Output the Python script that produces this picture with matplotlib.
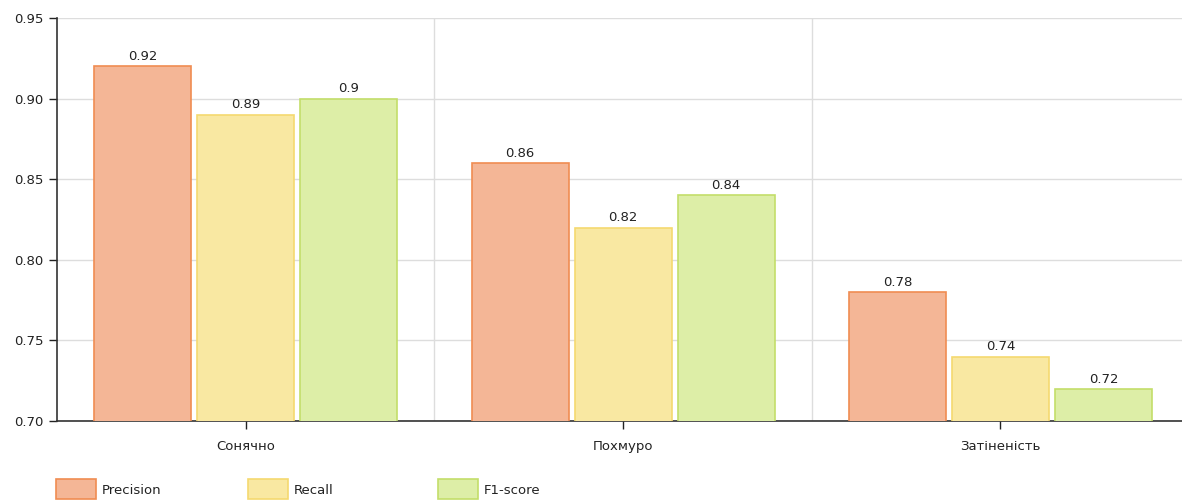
import numpy as np
import matplotlib.pyplot as plt
from matplotlib.patches import Rectangle

# Data
categories = ["Сонячно", "Похмуро", "Затіненість"]
series_names = ["Precision", "Recall", "F1-score"]
precision = [0.92, 0.86, 0.78]
recall = [0.89, 0.82, 0.74]
f1_score = [0.90, 0.84, 0.72]
value_labels = [["0.92", "0.86", "0.78"],
                ["0.89", "0.82", "0.74"],
                ["0.9", "0.84", "0.72"]]

fills = ["#F4B696", "#F9E8A2", "#DDEEA7"]
edges = ["#F08C52", "#F5D970", "#C3DE6A"]

plt.rcParams['font.family'] = ['DejaVu Sans']

fig = plt.figure(figsize=(11.82, 5), dpi=100)
ax = fig.add_axes([57 / 1182, 79 / 500, 1 - 57 / 1182 + 0.006, 403 / 500])

x = np.arange(len(categories))
width = 0.257
step = 0.273
for i, vals in enumerate([precision, recall, f1_score]):
    pos = x + (i - 1) * step
    ax.bar(pos, vals, width=width, color=fills[i], edgecolor=edges[i],
           linewidth=1.2, zorder=3)
    for p, v, lab in zip(pos, vals, value_labels[i]):
        ax.text(p, v + 0.002, lab, ha='center', va='bottom', fontsize=9.5,
                color='#222222', zorder=4)

ax.set_ylim(0.70, 0.95)
ax.set_xlim(-0.5, 2.5)
ax.set_yticks([0.70, 0.75, 0.80, 0.85, 0.90, 0.95])
ax.set_yticklabels(["0.70", "0.75", "0.80", "0.85", "0.90", "0.95"])
ax.set_xticks(x)
ax.set_xticklabels(categories)
ax.tick_params(axis='both', labelsize=9.5, colors='#222222', length=6, width=1)
ax.tick_params(axis='x', pad=8)

# grid
ax.grid(axis='y', color='#dddddd', linewidth=1, zorder=0)
ax.set_xticks([0.5, 1.5], minor=True)
ax.grid(axis='x', which='minor', color='#dddddd', linewidth=1, zorder=0)
ax.tick_params(axis='x', which='minor', length=0)

for s in ['top', 'right']:
    ax.spines[s].set_visible(False)
for s in ['left', 'bottom']:
    ax.spines[s].set_color('#333333')
    ax.spines[s].set_linewidth(1.2)

# legend drawn manually
leg_x = [56, 248, 438]
for i, name in enumerate(series_names):
    fig.add_artist(Rectangle((leg_x[i] / 1182, 1 / 500), 40 / 1182, 20 / 500,
                             facecolor=fills[i], edgecolor=edges[i],
                             linewidth=1.2, transform=fig.transFigure))
    fig.text((leg_x[i] + 46) / 1182, 10 / 500, name, fontsize=9.5,
             va='center', ha='left', color='#222222')

fig.savefig("out.png", dpi=100)
